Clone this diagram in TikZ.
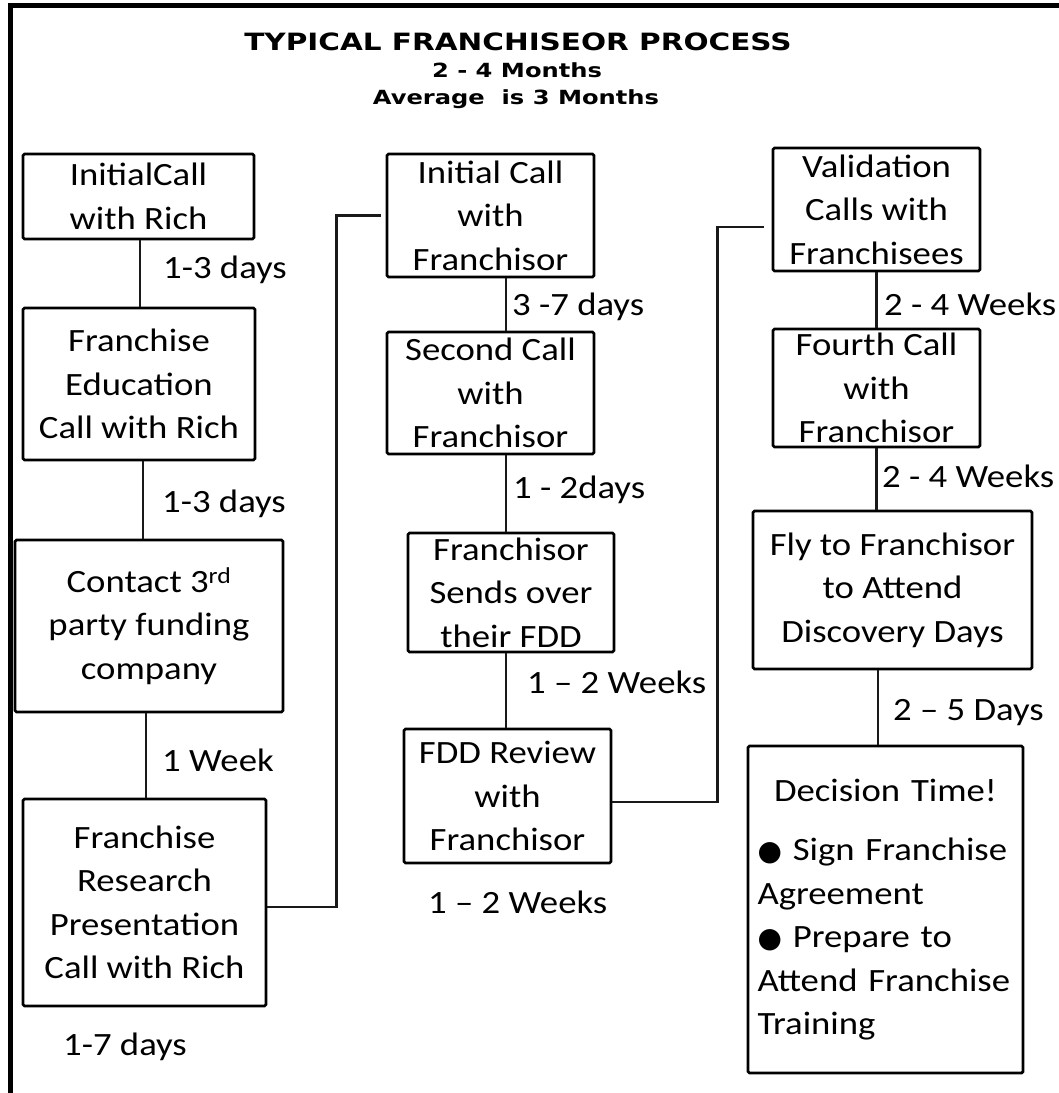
\documentclass[tikz,border=0pt]{standalone}
\usepackage{fontspec}
\setmainfont{Carlito}[FakeStretch=1.13]
\newfontfamily\titlefont{DejaVu Sans}[FakeStretch=1.24]
\newfontfamily\bulfont{DejaVu Sans}
\begin{document}
\begin{tikzpicture}[x=1pt,y=-1pt,
  box/.style={draw, line width=2.8pt, rounded corners=1.5pt, align=center, inner sep=2pt,
              font=\fontsize{32.5}{43.5}\selectfont},
  lbl/.style={anchor=base west, inner sep=0pt, font=\fontsize{32.5}{43}\selectfont},
  link/.style={line width=2.4pt, draw=black!90},
  ttl/.style={anchor=base, inner sep=0pt, font=\titlefont\bfseries}]
\useasboundingbox (0,0) rectangle (1059,1093);
\fill[white] (0,0) rectangle (1059,1093);
% frame
\draw[line width=4.5pt] (1059,5.5) -- (10.5,5.5) -- (10.5,1093);
% title
\node[ttl, font=\titlefont\bfseries\fontsize{23.8}{26}\selectfont] (t1) at (518,50) {TYPICAL FRANCHISEOR PROCESS};
\node[ttl, font=\titlefont\bfseries\fontsize{19.5}{22}\selectfont] (t2) at (517,77) {2 - 4 Months};
\node[ttl, font=\titlefont\bfseries\fontsize{19.5}{22}\selectfont] (t3) at (516,104) {Average\ \ is 3 Months};
% column 1
\node[box, minimum width=231pt, minimum height=85pt] (A) at (138.5,196.5) {InitialCall\\with Rich};
\node[box, minimum width=232pt, minimum height=152pt] (B) at (139,384) {Franchise\\Education\\Call with Rich};
\node[box, minimum width=268pt, minimum height=172pt] (C) at (149,626) {Contact 3\textsuperscript{rd}\\party funding\\company};
\node[box, minimum width=243pt, minimum height=207pt] (D) at (144.5,902.5) {Franchise\\Research\\Presentation\\Call with Rich};
% column 2
\node[box, minimum width=207pt, minimum height=123pt] (E) at (490.5,215.5) {Initial Call\\with\\Franchisor};
\node[box, minimum width=207pt, minimum height=122pt] (F) at (490.5,393) {Second Call\\with\\Franchisor};
\node[box, minimum width=206pt, minimum height=119pt] (G) at (511,592.5) {Franchisor\\Sends over\\their FDD};
\node[box, minimum width=207pt, minimum height=134pt] (H) at (507.5,796) {FDD Review\\with\\Franchisor};
% column 3
\node[box, minimum width=207pt, minimum height=123pt] (I) at (876.5,209.5) {Validation\\Calls with\\Franchisees};
\node[box, minimum width=207pt, minimum height=118pt] (J) at (876.5,388) {Fourth Call\\with\\Franchisor};
\node[box, minimum width=279pt, minimum height=158pt] (K) at (892.5,590) {Fly to Franchisor\\to Attend\\Discovery Days};
\node[box, align=left, text width=256pt, inner xsep=9.5pt, minimum height=327pt] (L) at (885.5,909.5)
  {\centering Decision Time!\par\vspace{16pt}\raggedright
   {\bulfont\fontsize{28}{28}\selectfont ●} Sign Franchise\\Agreement\\
   {\bulfont\fontsize{28}{28}\selectfont ●} Prepare to\\Attend Franchise\\Training\par};
% vertical links
\draw[link] ([xshift=1.5pt]A.south) -- ([xshift=1.5pt]A.south |- B.north);
\draw[link] ([xshift=4pt]B.south) -- ([xshift=4pt]B.south |- C.north);
\draw[link] ([xshift=-3pt]C.south) -- ([xshift=-3pt]C.south |- D.north);
\draw[link] ([xshift=15.5pt]E.south) -- ([xshift=15.5pt]E.south |- F.north);
\draw[link] ([xshift=15.5pt]F.south) -- ([xshift=15.5pt]F.south |- G.north);
\draw[link] ([xshift=-5pt]G.south) -- ([xshift=-5pt]G.south |- H.north);
\draw[link] (I.south) -- (I.south |- J.north);
\draw[link] (J.south) -- (J.south |- K.north);
\draw[link] ([xshift=-14.5pt]K.south) -- ([xshift=-14.5pt]K.south |- L.north);
% cross-column links
\draw[link, shorten >=5pt] ([yshift=-4.5pt]D.east) -- ++(69,0) |- (E.west);
\draw[link, shorten >=8pt] ([yshift=-6pt]H.east) -- ++(105,0) |- ([yshift=-17.5pt]I.west);
% labels
\node[lbl] (l1) at (163,278) {1-3 days};
\node[lbl] (l2) at (162,512) {1-3 days};
\node[lbl] (l3) at (162,771) {1 Week};
\node[lbl] (l4) at (63,1055) {1-7 days};
\node[lbl] (l5) at (512,315) {3 -7 days};
\node[lbl] (l6) at (513,498) {1 - 2days};
\node[lbl] (l7) at (527,693) {1 – 2 Weeks};
\node[lbl] (l8) at (428,913) {1 – 2 Weeks};
\node[lbl] (l9) at (884,315) {2 - 4 Weeks};
\node[lbl] (l10) at (882,487) {2 - 4 Weeks};
\node[lbl] (l11) at (893,720) {2 – 5 Days};
\end{tikzpicture}
\end{document}
